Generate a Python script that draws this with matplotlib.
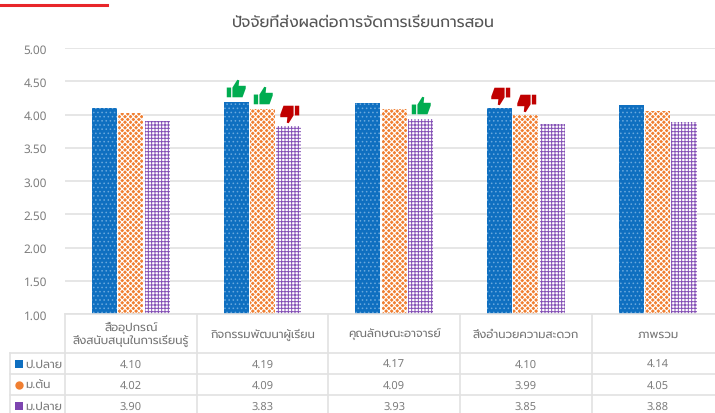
import numpy as np
import matplotlib
matplotlib.use('Agg')
import matplotlib.pyplot as plt
from matplotlib.path import Path

plt.rcParams['font.family'] = ['Prompt Light', 'Prompt', 'Noto Sans Thai', 'DejaVu Sans']
plt.rcParams['text.hinting'] = 'no_hinting'
plt.rcParams['text.hinting_factor'] = 1
# Prompt loses its full stops at this size, so digits and stops come from Noto Sans
DIGITS = ['Noto Sans', 'Prompt Light', 'Prompt', 'Noto Sans Thai', 'DejaVu Sans']

title = 'ปัจจัยที่ส่งผลต่อการจัดการเรียนการสอน'
categories = ['สื่ออุปกรณ์\nสิ่งสนับสนุนในการเรียนรู้', 'กิจกรรมพัฒนาผู้เรียน', 'คุณลักษณะอาจารย์',
              'สิ่งอำนวยความสะดวก', 'ภาพรวม']
series_names = ['ป.ปลาย', 'ม.ต้น', 'ม.ปลาย']
p_plai = [4.10, 4.19, 4.17, 4.10, 4.14]
m_ton = [4.02, 4.09, 4.09, 3.99, 4.05]
m_plai = [3.90, 3.83, 3.93, 3.85, 3.88]
yticks = [1.00, 1.50, 2.00, 2.50, 3.00, 3.50, 4.00, 4.50, 5.00]
# (category, series) pairs carrying a thumb icon
thumbs_up = [(1, 0), (1, 1), (2, 2)]
thumbs_down = [(1, 2), (3, 0), (3, 1)]

W, H = 715, 414
GREY = '#757575'
GREY2 = '#7d7d7d'
GRID = '#e2e2e2'
fig = plt.figure(figsize=(W / 100, H / 100), dpi=100)
ax = fig.add_axes([65 / W, 1 - 315 / H, 650 / W, 266 / H])

cat_w = 131.7
ax.set_xlim(0, 650 / cat_w)
ax.set_ylim(1, 5)
ax.set_yticks(yticks)
ax.set_yticklabels(['%.2f' % v for v in yticks], fontsize=8.5, color=GREY2, family=DIGITS)
ax.set_xticks([])
ax.tick_params(axis='y', length=0, pad=13)
ax.grid(axis='y', color=GRID, lw=1.2)
ax.set_axisbelow(True)
for s in ax.spines.values():
    s.set_visible(False)

x = np.arange(5) + 0.5
step = 0.2
w = 0.19
all_vals = [p_plai, m_ton, m_plai]
plt.rcParams['hatch.linewidth'] = 0.6
ax.bar(x - step, p_plai, w, color='#0f6fc0', edgecolor='#6aa9de', hatch='....', lw=0)
plt.rcParams['hatch.linewidth'] = 0.8
ax.bar(x, m_ton, w, color='#f07f32', edgecolor='white', hatch='xxxxxx', lw=0)
plt.rcParams['hatch.linewidth'] = 0.7
ax.bar(x + step, m_plai, w, color='white', edgecolor='#8450b5', hatch='+++++', lw=0)

# thumb icon, hand side up
thumb = Path([(-1, -.8), (-.55, -.8), (-.55, .2), (-1, .2), (-1, -.8),
              (-.42, -.8), (.62, -.8), (.95, .1), (.95, .38), (.22, .38), (.28, .95), (.08, 1), (-.42, .2), (-.42, -.8)],
             [1, 2, 2, 2, 79, 1, 2, 2, 2, 2, 2, 2, 2, 79])
thumb_down = Path(thumb.vertices * [-1, -1], thumb.codes)
offs = 13 * 4 / 266
for c, s in thumbs_up:
    ax.plot(x[c] + (s - 1) * step, all_vals[s][c] + offs, marker=thumb, ms=14, color='#00ac50', mew=0,
            clip_on=False)
for c, s in thumbs_down:
    ax.plot(x[c] + (s - 1) * step, all_vals[s][c] + offs, marker=thumb_down, ms=14, color='#c00000', mew=0,
            clip_on=False)

# table under the bars, rows in pixels below the axis
tr = ax.get_xaxis_transform()
def py(p):
    return (315 - p) / 266
centers = [364.5, 385.5, 406.5]
for p in [315, 354, 375, 396]:
    x0 = (10 - 65) / cat_w if p >= 354 else 0
    ax.plot([x0, 650 / cat_w], [py(p)] * 2, transform=tr, color=GRID, lw=1.2, clip_on=False)
for i in range(6):
    ax.plot([i, i], [py(315), py(414)], transform=tr, color=GRID, lw=1.2, clip_on=False)
x_left = (10 - 65) / cat_w
ax.plot([x_left, x_left], [py(354), py(414)], transform=tr, color=GRID, lw=1.2, clip_on=False)

for i, c in enumerate(categories):
    ax.text(x[i], py(334.5), c, transform=tr, ha='center', va='center', fontsize=8.3, color=GREY,
            linespacing=1.15)
for r, (name, vals) in enumerate(zip(series_names, all_vals)):
    ax.text((25 - 65) / cat_w, py(centers[r]), name, transform=tr, ha='left', va='center', fontsize=8.3,
            color=GREY2, family=DIGITS)
    for i, v in enumerate(vals):
        ax.text(x[i], py(centers[r]), '%.2f' % v, transform=tr, ha='center', va='center', fontsize=8,
                color=GREY2, family=DIGITS)

# legend keys in the table
key_colors = ['#0f6fc0', '#f07f32', '#7d45b0']
key_markers = ['s', 'o', 's']
for r in range(3):
    ax.plot((18.5 - 65) / cat_w, py(centers[r]), marker=key_markers[r], ms=6, color=key_colors[r], mew=0,
            transform=tr, clip_on=False)

fig.text(363.5 / W, 1 - 23 / H, title, ha='center', va='center', fontsize=11.3, color='#555555')
fig.add_artist(plt.Line2D([0, 107 / W], [1 - 6 / H] * 2, color='#e8262a', lw=2.2))

fig.savefig('out.png', dpi=100)
